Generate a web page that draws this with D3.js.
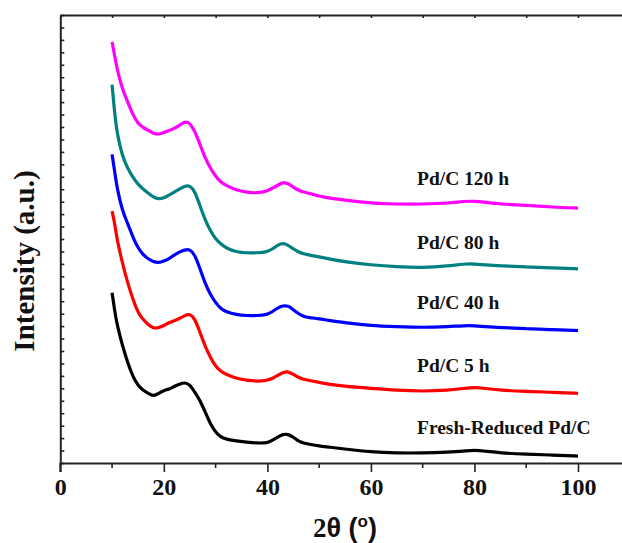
<!DOCTYPE html>
<html>
<head>
<meta charset="utf-8">
<script src="https://cdn.jsdelivr.net/npm/d3@7"></script>
<style>
  body { margin: 0; background: #fff; }
  svg { display: block; }
  text { font-family: "Palatino Linotype", "Book Antiqua", Palatino, "Liberation Serif", serif; font-weight: bold; fill: #111; }
</style>
</head>
<body>
<div id="chart"></div>
<script>
// 2theta positions (degrees) where the patterns were read
const twoTheta = [10, 10.5, 11, 12, 13, 14, 15, 16, 17, 18,
  19, 20, 21, 22, 23, 24, 25, 26, 27, 28,
  29, 30, 31, 32, 34, 36, 38, 40, 41, 42,
  43, 44, 45, 46, 47, 48, 50, 52, 55, 60,
  65, 70, 75, 78, 80, 82, 85, 90, 95, 100];

// intensities (a.u., stacked with offsets as in the figure)
const freshReduced = [171, 153, 138, 118, 101, 87, 78, 73, 70, 67,
  70, 73, 74, 77, 79, 81, 79, 71, 63, 51,
  39, 31, 26, 24, 22, 21, 20, 20, 23, 26,
  29, 29, 26, 22, 20, 19, 17, 16, 14, 11,
  10, 10, 11, 12, 13, 12, 10, 9, 8, 7];
const pdc5h = [253, 241, 223, 201, 181, 165, 151, 144, 139, 135,
  136, 138, 141, 143, 145, 148, 150, 145, 131, 117,
  106, 97, 92, 89, 85, 83, 82, 83, 85, 88,
  91, 92, 89, 86, 84, 83, 81, 79, 77, 75,
  73, 72, 73, 75, 76, 75, 73, 72, 71, 70];
const pdc40h = [310, 293, 275, 253, 241, 227, 216, 209, 205, 202,
  201, 203, 205, 209, 212, 214, 215, 209, 195, 180,
  169, 161, 155, 152, 149, 148, 148, 149, 152, 156,
  158, 158, 154, 150, 147, 146, 145, 143, 141, 138,
  137, 136, 137, 138, 138, 137, 136, 135, 134, 133];
const pdc80h = [380, 351, 330, 308, 296, 287, 280, 275, 271, 267,
  265, 266, 269, 272, 275, 278, 279, 273, 258, 244,
  233, 225, 220, 216, 212, 211, 211, 212, 215, 219,
  221, 219, 215, 212, 210, 209, 207, 205, 202, 199,
  197, 196, 198, 200, 200, 199, 198, 197, 196, 195];
const pdc120h = [423, 409, 395, 375, 363, 350, 341, 337, 334, 331,
  330, 332, 334, 336, 339, 343, 342, 333, 320, 306,
  296, 288, 282, 279, 274, 272, 271, 273, 276, 279,
  282, 281, 277, 274, 272, 271, 268, 266, 264, 261,
  260, 260, 261, 263, 263, 262, 260, 259, 257, 256];

const seriesNames = ["Fresh-Reduced Pd/C", "Pd/C 5 h", "Pd/C 40 h", "Pd/C 80 h", "Pd/C 120 h"];
const seriesValues = [freshReduced, pdc5h, pdc40h, pdc80h, pdc120h];
const seriesColors = ["#000000", "#ff0000", "#0000ff", "#008080", "#ff00ff"];

const xMajorTicks = [0, 20, 40, 60, 80, 100];
const xMinorTicks = [10, 30, 50, 70, 90];

const width = 622, height = 543;
const margin = { top: 15, right: 0, bottom: 80, left: 60.3 };

const svg = d3.select("#chart")
  .append("svg")
  .attr("width", width)
  .attr("height", height);

const x = d3.scaleLinear()
  .domain([0, 108.5])
  .range([margin.left, width - margin.right]);

const y = d3.scaleLinear()
  .domain([0, 450])
  .range([height - margin.bottom, margin.top]);

// bottom axis, major + minor ticks
const bottomAxis = svg.append("g")
  .attr("transform", `translate(0, ${y(0)})`);
bottomAxis.call(d3.axisBottom(x).tickValues(xMajorTicks).tickSize(9).tickSizeOuter(0).tickPadding(6))
bottomAxis.selectAll("text").style("font-size", "24px").attr("dy", "0.72em");
bottomAxis.append("g")
  .selectAll("line")
  .data(xMinorTicks)
  .join("line")
  .attr("x1", d => x(d)).attr("x2", d => x(d))
  .attr("y1", 0).attr("y2", 5);

// top axis: inward ticks, no labels
const topAxis = svg.append("g")
  .attr("transform", `translate(0, ${y(450)})`);
topAxis.call(d3.axisTop(x).tickValues(xMajorTicks.concat(xMinorTicks)).tickSize(-3).tickSizeOuter(0).tickFormat(""));

// left axis: inward minor ticks, no labels
const leftAxis = svg.append("g")
  .attr("transform", `translate(${x(0)}, 0)`);
leftAxis.call(d3.axisLeft(y).tickValues(d3.range(0, 451, 12.5)).tickSize(-4).tickSizeOuter(0).tickFormat(""));

svg.selectAll(".domain").attr("stroke", "#222").attr("stroke-width", 2);
svg.selectAll(".tick line, g line").attr("stroke", "#222").attr("stroke-width", 1.6);

// extend left axis line down to the tick at 0
svg.append("line")
  .attr("x1", x(0)).attr("x2", x(0))
  .attr("y1", y(0)).attr("y2", y(0) + 9)
  .attr("stroke", "#222").attr("stroke-width", 2);

// patterns
const line = d3.line()
  .x((d, i) => x(twoTheta[i]))
  .y(d => y(d))
  .curve(d3.curveBasis);

svg.append("g")
  .selectAll("path")
  .data(seriesValues)
  .join("path")
  .attr("fill", "none")
  .attr("stroke", (d, i) => seriesColors[i])
  .attr("stroke-width", 3.2)
  .attr("stroke-linejoin", "round")
  .attr("d", line);

// series labels, sitting above each pattern at 2theta = 70
const labelIdx = twoTheta.indexOf(70);
svg.append("g")
  .selectAll("text")
  .data(seriesNames)
  .join("text")
  .attr("x", x(68.9))
  .attr("y", (d, i) => y(seriesValues[i][labelIdx]) - 19)
  .style("font-size", "19.5px")
  .text(d => d);

// axis titles
const xTitle = svg.append("text")
  .attr("x", 345)
  .attr("y", 537)
  .attr("text-anchor", "middle")
  .style("font-size", "27px");
xTitle.append("tspan").text("2");
xTitle.append("tspan").style("font-family", "'Liberation Sans', Arial, sans-serif").text("θ (");
xTitle.append("tspan").style("font-family", "'Liberation Sans', Arial, sans-serif").style("font-size", "17px").attr("dy", -10).text("o");
xTitle.append("tspan").style("font-family", "'Liberation Sans', Arial, sans-serif").attr("dy", 10).text(")");

svg.append("text")
  .attr("transform", `translate(34, 261) rotate(-90)`)
  .attr("text-anchor", "middle")
  .style("font-size", "29px")
  .text("Intensity (a.u.)");
</script>
</body>
</html>
